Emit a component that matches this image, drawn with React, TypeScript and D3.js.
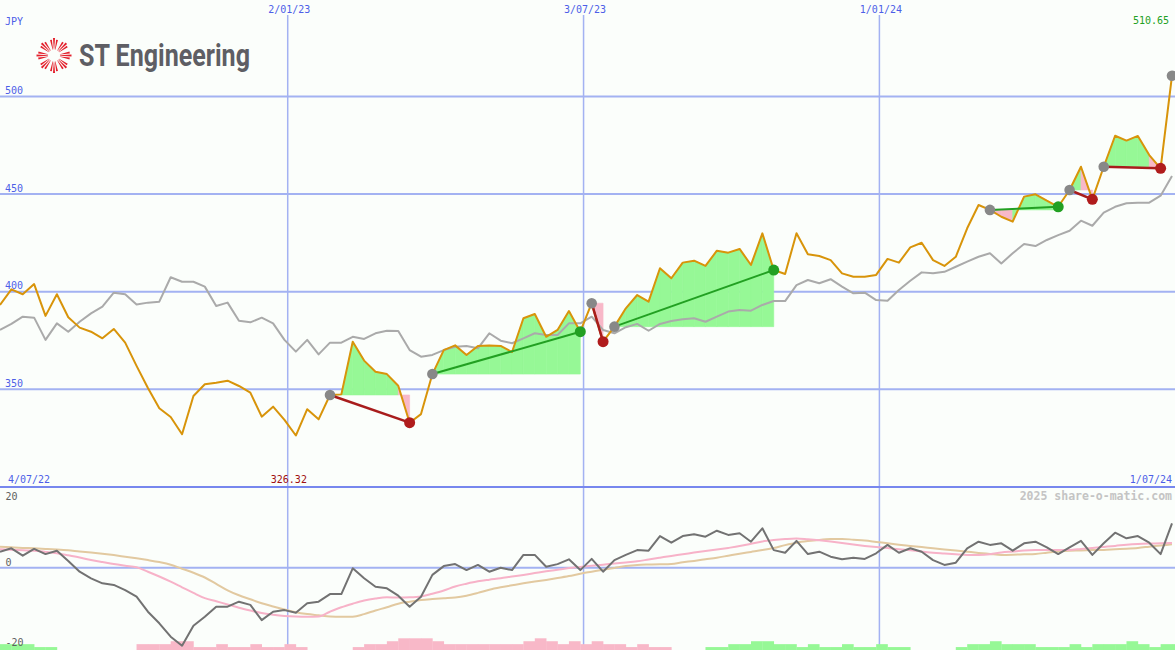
import React from "react";
import * as d3 from "d3";

// ---------- DATA ----------
const firstWeek = new Date(2022, 6, 9);

const prices = [
  393.2, 401.2, 398.7, 403.9, 387.6, 398.7, 386.9, 381.6, 379.5, 376.1,
  380.9, 373.9, 362.0, 350.7, 340.3, 335.8, 327.0, 346.6, 352.6, 353.4,
  354.4, 351.7, 348.3, 336.0, 341.1, 334.3, 326.32, 339.8, 334.6, 347.1,
  347.4, 374.4, 364.7, 359.0, 357.8, 351.8, 332.9, 337.3, 357.8, 370.1,
  372.5, 367.6, 372.2, 372.5, 372.2, 369.1, 386.4, 388.6, 376.9, 380.4,
  390.1, 379.5, 394.1, 374.4, 382.1, 391.5, 398.3, 394.9, 412.0, 406.9,
  414.9, 415.9, 413.2, 421.0, 420.0, 421.9, 413.7, 429.9, 411.1, 409.1,
  429.9, 419.2, 418.3, 416.2, 409.4, 407.7, 407.7, 408.6, 416.8, 414.9,
  422.7, 425.1, 416.2, 413.2, 417.9, 432.5, 444.4, 441.9, 438.4, 435.9,
  448.7, 449.9, 446.6, 443.5, 452.1, 464.0, 447.3, 464.0, 479.9, 477.4,
  479.8, 470.0, 463.2, 510.65,
];

const compare = [
  380.4, 383.5, 387.2, 386.7, 375.3, 383.8, 379.5, 384.6, 388.9, 392.3,
  399.5, 398.7, 393.5, 394.4, 394.9, 407.4, 405.1, 405.1, 402.6, 392.7,
  394.4, 385.1, 384.3, 386.7, 383.8, 375.3, 369.3, 375.3, 367.9, 373.9,
  373.9, 376.9, 375.8, 378.7, 380.0, 379.9, 370.1, 366.7, 367.6, 370.1,
  371.8, 372.2, 371.0, 378.7, 374.9, 373.6, 376.1, 378.7, 377.8, 377.8,
  383.8, 383.8, 387.2, 380.4, 378.7, 381.8, 383.5, 380.0, 383.5, 385.0,
  385.9, 386.4, 384.6, 387.2, 389.8, 390.6, 390.3, 393.2, 395.2, 395.2,
  403.4, 406.0, 404.3, 406.4, 402.6, 399.2, 399.5, 395.7, 395.4, 400.9,
  405.6, 409.9, 409.4, 410.2, 412.8, 415.4, 417.9, 419.7, 414.5, 419.7,
  424.4, 423.4, 426.5, 429.0, 431.2, 436.4, 433.8, 440.5, 443.5, 445.3,
  445.6, 445.6, 449.2, 459.3,
];

const macd = [
  4.0, 4.85, 3.0, 4.7, 3.4, 4.25, 1.7, -1.0, -2.65, -3.9,
  -4.3, -5.6, -7.25, -11.0, -13.9, -17.25, -19.5, -14.5, -12.25, -9.75,
  -9.75, -8.5, -9.3, -13.1, -11.0, -10.6, -11.25, -8.9, -8.5, -6.6,
  -6.6, -0.15, -2.65, -4.75, -5.15, -7.0, -9.75, -7.25, -1.8, 0.4,
  0.9, -0.6, 0.7, -1.0, 0.0, -0.6, 3.2, 3.2, 0.25, 0.9,
  2.1, -0.6, 2.2, -1.0, 1.9, 3.2, 4.4, 4.25, 7.9, 6.25,
  7.9, 8.35, 7.75, 9.25, 8.2, 8.6, 6.5, 9.85, 4.4, 3.75,
  6.7, 3.4, 4.0, 2.75, 2.1, 2.5, 2.2, 3.6, 5.7, 3.75,
  4.85, 4.0, 1.9, 0.7, 1.25, 4.85, 6.5, 5.7, 6.1, 4.25,
  6.1, 6.5, 5.1, 3.4, 5.1, 6.7, 3.2, 6.1, 8.75, 7.35,
  7.9, 6.25, 3.4, 11.1,
];

const signalFast = [
  4.6, 4.5, 4.35, 4.25, 3.95, 3.6, 3.1, 2.55, 1.9, 1.4,
  0.95, 0.5, 0.1, -1.0, -2.2, -3.5, -4.9, -6.3, -7.6, -8.4,
  -9.2, -10.0, -10.7, -11.35, -11.75, -12.05, -12.2, -12.25, -12.2, -11.0,
  -9.9, -9.0, -8.2, -7.7, -7.4, -7.45, -7.4, -7.2, -6.5, -5.7,
  -4.7, -4.0, -3.4, -3.0, -2.65, -2.2, -1.8, -1.35, -0.9, -0.5,
  -0.1, 0.2, 0.5, 0.75, 1.05, 1.3, 1.6, 2.05, 2.5, 2.95,
  3.35, 3.8, 4.2, 4.55, 4.95, 5.4, 6.0, 6.55, 6.9, 7.15,
  7.3, 7.1, 6.85, 6.55, 6.2, 5.8, 5.45, 5.15, 4.9, 4.6,
  4.35, 4.05, 3.75, 3.55, 3.35, 3.2, 3.2, 3.35, 3.8, 4.05,
  4.3, 4.4, 4.4, 4.4, 4.45, 4.7, 4.95, 5.2, 5.45, 5.75,
  5.95, 6.05, 6.1, 6.2,
];

const signalSlow = [
  5.25, 5.1, 4.95, 4.85, 4.7, 4.55, 4.35, 4.05, 3.8, 3.5,
  3.15, 2.75, 2.35, 1.9, 1.4, 0.75, -0.25, -1.25, -2.45, -4.05,
  -5.65, -6.9, -7.9, -8.9, -9.7, -10.45, -11.15, -11.6, -11.9, -12.2,
  -12.25, -12.25, -11.6, -10.7, -9.9, -9.0, -8.5, -8.1, -7.85, -7.65,
  -7.45, -7.0, -6.3, -5.5, -4.9, -4.4, -3.9, -3.45, -3.05, -2.6,
  -2.1, -1.5, -1.0, -0.5, -0.05, 0.4, 0.7, 0.8, 0.85, 0.95,
  1.35, 1.7, 2.1, 2.5, 3.0, 3.5, 3.95, 4.4, 4.95, 5.65,
  6.25, 6.65, 6.95, 7.15, 7.2, 7.0, 6.8, 6.45, 6.1, 5.75,
  5.45, 5.15, 4.85, 4.55, 4.3, 4.0, 3.7, 3.45, 3.2, 3.25,
  3.35, 3.45, 3.75, 4.05, 4.25, 4.3, 4.4, 4.45, 4.6, 4.75,
  4.95, 5.25, 5.55, 5.85,
];

const histogram = [
  2, 2, 2, 1, 1, 0, 0, 0, 0, 0,
  0, 0, -2, -2, -2, -3, -3, -1, -1, -2,
  -1, -1, -2, -1, -1, -2, -1, 0, 0, 0,
  0, -1, -2, -2, -3, -4, -4, -4, -3, -2,
  -2, -2, -2, -2, -2, -2, -3, -4, -3, -2,
  -3, -2, -3, -2, -2, -1, -2, -1, -1, 0,
  0, 0, 1, 1, 2, 2, 3, 3, 2, 2,
  1, 2, 1, 1, 2, 1, 1, 2, 1, 1,
  0, 0, 0, 0, 1, 2, 2, 3, 2, 2,
  2, 1, 1, 1, 2, 1, 2, 2, 2, 3,
  2, 1, 2, 2,
];

const tradeEntries = [29, 38, 52, 54, 87, 94, 97];
const tradeExits = [36, 51, 53, 68, 93, 96, 102];
const openEntries = [103];

const priceGrid = [350, 400, 450, 500];
const gridDates = [new Date(2023, 0, 2), new Date(2023, 6, 3), new Date(2024, 0, 1)];
const gridLabels = ["2/01/23", "3/07/23", "1/01/24"];
const macdLabels = [20, 0, -20];
const currency = "JPY";
const rangeStart = "4/07/22";
const rangeEnd = "1/07/24";
const watermark = "2025 share-o-matic.com";
const company = "ST Engineering";

// ---------- STYLE ----------
const W = 1175;
const H = 650;
const BG = "#fbfefb";
const GRID = "#a3b2f2";
const DIVIDER = "#7787ee";
const LABEL_BLUE = "#4d5ee8";
const ORANGE = "#d8940a";
const GREY = "#aaaaaa";
const FILL_GREEN = "#96f896";
const FILL_PINK = "#f8b8c8";
const LINE_GREEN = "#22a022";
const LINE_RED = "#a81c1c";
const MONO = "'DejaVu Sans Mono', monospace";

export default function App() {
  const dates = prices.map((_, i) => d3.timeDay.offset(firstWeek, 7 * i));
  const x = d3.scaleTime().domain([dates[0], dates[dates.length - 1]]).range([0, 1172]);
  const xi = (i: number) => x(dates[i]);
  const step = xi(1) - xi(0);
  const y = d3.scaleLinear().domain([400, 500]).range([291.7, 96.5]);
  const ym = d3.scaleLinear().domain([-20, 20]).range([647.7, 487.7]);
  const yh = d3.scaleLinear().domain([0, 4]).range([650, 638.3]);

  const priceLine = d3.line<number>().x((_, i) => xi(i)).y((d) => y(d));
  const macdLine = d3.line<number>().x((_, i) => xi(i)).y((d) => ym(d));
  const smoothLine = d3
    .line<number>()
    .x((_, i) => xi(i))
    .y((d) => ym(d))
    .curve(d3.curveMonotoneX);

  const minIdx = d3.minIndex(prices);
  const maxVal = d3.max(prices) as number;
  const minVal = d3.min(prices) as number;

  const fills: React.ReactNode[] = [];
  tradeEntries.forEach((e, t) => {
    const ex = tradeExits[t];
    const base = prices[e];
    for (let j = e; j < ex; j++) {
      const pts = [
        [xi(j), y(base)],
        [xi(j), y(prices[j])],
        [xi(j + 1), y(prices[j + 1])],
        [xi(j + 1), y(base)],
      ];
      const c = prices[j + 1] >= base ? FILL_GREEN : FILL_PINK;
      fills.push(
        <polygon
          key={`f${t}-${j}`}
          points={pts.map((p) => p.join(",")).join(" ")}
          fill={c}
          stroke={c}
          strokeWidth={0.6}
        />
      );
    }
  });

  // logo rays
  const rays: React.ReactNode[] = [];
  const cx = 54;
  const cy = 55.5;
  for (let g = 0; g < 8; g++) {
    for (let k = -1; k <= 1; k++) {
      const a = ((g * 45 + k * 11) * Math.PI) / 180;
      const w = (3.4 * Math.PI) / 180;
      const r0 = 6;
      const r1 = 17.5 - Math.abs(k) * 1.5;
      const p = [
        [cx + r0 * Math.cos(a - w * 0.5), cy + r0 * Math.sin(a - w * 0.5)],
        [cx + r1 * Math.cos(a - w), cy + r1 * Math.sin(a - w)],
        [cx + r1 * Math.cos(a + w), cy + r1 * Math.sin(a + w)],
        [cx + r0 * Math.cos(a + w * 0.5), cy + r0 * Math.sin(a + w * 0.5)],
      ];
      rays.push(
        <polygon key={`r${g}-${k}`} points={p.map((q) => q.join(",")).join(" ")} fill="#e3202c" />
      );
    }
  }

  return (
    <div style={{ position: "absolute", left: 0, top: 0, width: W, height: H }}>
      <svg width={W} height={H} style={{ display: "block" }}>
        <rect x={0} y={0} width={W} height={H} fill={BG} />

        {/* vertical grid */}
        {gridDates.map((d, i) => (
          <line key={`vg${i}`} x1={x(d)} x2={x(d)} y1={15} y2={H} stroke={GRID} strokeWidth={1.5} />
        ))}
        {/* horizontal price grid */}
        {priceGrid.map((v) => (
          <line key={`hg${v}`} x1={0} x2={W} y1={y(v)} y2={y(v)} stroke={GRID} strokeWidth={2} />
        ))}
        {/* macd zero line */}
        <line x1={0} x2={W} y1={ym(0)} y2={ym(0)} stroke={GRID} strokeWidth={2} />
        {/* divider */}
        <line x1={0} x2={W} y1={487} y2={487} stroke={DIVIDER} strokeWidth={2} />

        {/* logo */}
        <g>{rays}</g>
        <text
          x={79}
          y={65.5}
          fontFamily="Roboto, 'Liberation Sans', sans-serif"
          fontWeight={700}
          fontSize={31}
          fill="#5e5e64"
          textLength={171}
          lengthAdjust="spacingAndGlyphs"
        >
          {company}
        </text>

        {/* trade fills */}
        <g>{fills}</g>

        {/* lines */}
        <path d={priceLine(compare) || ""} fill="none" stroke={GREY} strokeWidth={2} strokeLinejoin="round" />
        <path d={priceLine(prices) || ""} fill="none" stroke={ORANGE} strokeWidth={2} strokeLinejoin="round" />

        {/* trade lines */}
        {tradeEntries.map((e, t) => {
          const ex = tradeExits[t];
          const win = prices[ex] >= prices[e];
          return (
            <line
              key={`tl${t}`}
              x1={xi(e)}
              y1={y(prices[e])}
              x2={xi(ex)}
              y2={y(prices[ex])}
              stroke={win ? LINE_GREEN : LINE_RED}
              strokeWidth={win ? 2 : 2.5}
            />
          );
        })}
        {/* dots */}
        {tradeEntries.map((e, t) => (
          <circle key={`de${t}`} cx={xi(e)} cy={y(prices[e])} r={5.3} fill="#888888" />
        ))}
        {openEntries.map((e, t) => (
          <circle key={`do${t}`} cx={xi(e)} cy={y(prices[e])} r={5.3} fill="#888888" />
        ))}
        {tradeExits.map((ex, t) => {
          const win = prices[ex] >= prices[tradeEntries[t]];
          return (
            <circle key={`dx${t}`} cx={xi(ex)} cy={y(prices[ex])} r={5.5} fill={win ? LINE_GREEN : "#b01c1c"} />
          );
        })}

        {/* histogram */}
        {histogram.map((h, i) =>
          h === 0 ? null : (
            <rect
              key={`h${i}`}
              x={xi(i)}
              y={yh(Math.abs(h))}
              width={step + 0.3}
              height={650 - yh(Math.abs(h))}
              fill={h > 0 ? FILL_GREEN : FILL_PINK}
            />
          )
        )}

        {/* macd lines */}
        <path d={smoothLine(signalSlow) || ""} fill="none" stroke="#e2c9a0" strokeWidth={2} />
        <path d={smoothLine(signalFast) || ""} fill="none" stroke="#f7b2c8" strokeWidth={2} />
        <path d={macdLine(macd) || ""} fill="none" stroke="#727272" strokeWidth={2} strokeLinejoin="round" />

        {/* labels */}
        <g fontFamily={MONO} fontSize={10}>
          <text x={5} y={25} fill={LABEL_BLUE}>{currency}</text>
          {priceGrid.map((v) => (
            <text key={`pl${v}`} x={5} y={y(v) - 2.3} fill={LABEL_BLUE}>{v}</text>
          ))}
          {gridDates.map((d, i) => (
            <text key={`dl${i}`} x={x(d) + 1.5} y={13} textAnchor="middle" fill={LABEL_BLUE}>
              {gridLabels[i]}
            </text>
          ))}
          <text x={1169} y={24} textAnchor="end" fill="#22a022">{maxVal.toFixed(2)}</text>
          <text x={8} y={483} fill={LABEL_BLUE}>{rangeStart}</text>
          <text x={1172} y={483} textAnchor="end" fill={LABEL_BLUE}>{rangeEnd}</text>
          <text x={xi(minIdx) - 7} y={483} textAnchor="middle" fill="#a01010">{minVal.toFixed(2)}</text>
          {macdLabels.map((v) => (
            <text
              key={`ml${v}`}
              x={5.5}
              y={v === 20 ? 499.5 : ym(v) - 2.2}
              fill="#5f5f5f"
            >
              {v}
            </text>
          ))}
        </g>
        <text
          x={1172}
          y={499.5}
          textAnchor="end"
          fontFamily={MONO}
          fontWeight="bold"
          fontSize={11.5}
          fill="#c4c4c4"
        >
          {watermark}
        </text>
      </svg>
    </div>
  );
}
